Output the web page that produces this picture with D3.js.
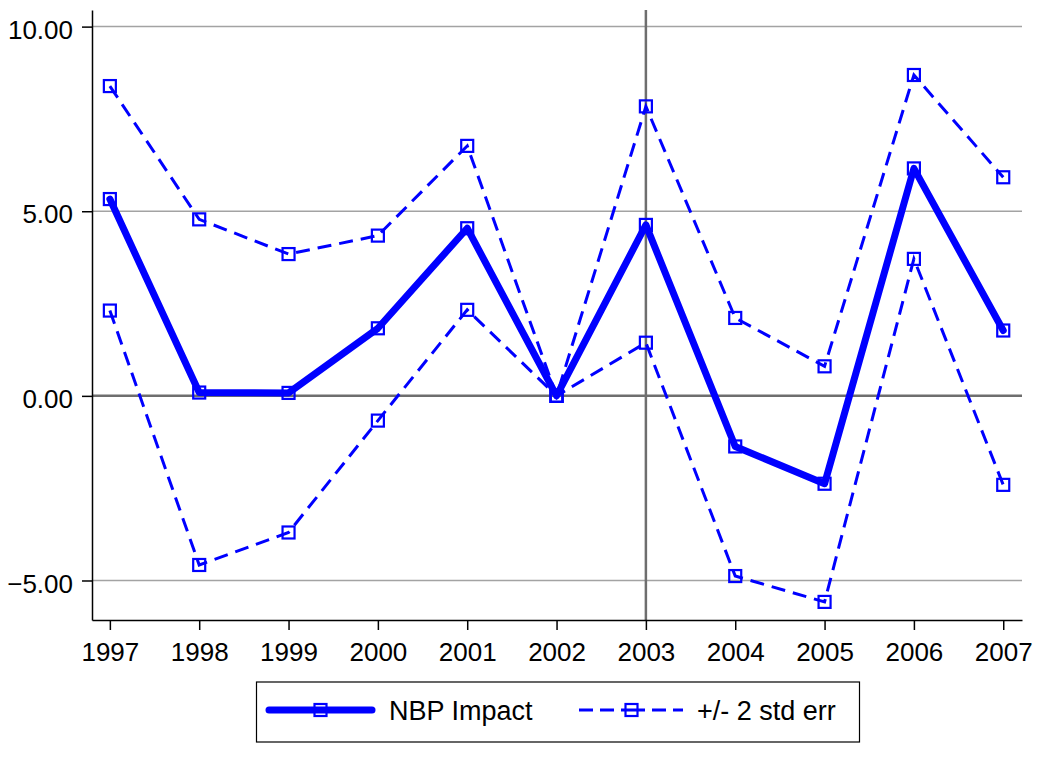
<!DOCTYPE html>
<html>
<head>
<meta charset="utf-8">
<script src="https://cdn.jsdelivr.net/npm/d3@7"></script>
<style>
  html, body { margin: 0; padding: 0; background: #fff; }
  svg { display: block; font-family: "Liberation Sans", Arial, sans-serif; }
</style>
</head>
<body>
<svg id="chart" width="1038" height="761"></svg>
<script>
// Estimated effect by year with a +/- 2 standard error band
const years = [1997, 1998, 1999, 2000, 2001, 2002, 2003, 2004, 2005, 2006, 2007];
const impact = [5.33, 0.09, 0.08, 1.83, 4.54, 0.00, 4.63, -1.37, -2.38, 6.16, 1.77];
const upperBand = [8.39, 4.78, 3.84, 4.34, 6.77, 0.00, 7.84, 2.11, 0.80, 8.69, 5.92];
const lowerBand = [2.31, -4.58, -3.70, -0.67, 2.33, 0.00, 1.44, -4.88, -5.58, 3.71, -2.41];
const yTicks = [-5, 0, 5, 10];
const gridValues = [-5, 5, 10];
const markYear = 2003;
const legendLabels = ["NBP Impact", "+/- 2 std err"];

const svg = d3.select("#chart");
const blue = "#0000ff";

const x = d3.scaleLinear().domain([1996.8, 2007.21]).range([92, 1022]);
const y = d3.scaleLinear().domain([-6.07, 10.45]).range([620, 10]);

// Horizontal reference lines
svg.append("g").selectAll("line").data(gridValues).join("line")
  .attr("x1", x.range()[0]).attr("x2", x.range()[1])
  .attr("y1", d => y(d)).attr("y2", d => y(d))
  .attr("stroke", "#a3a3a3").attr("stroke-width", 1.5);

// Zero line and vertical marker at 2003
svg.append("line")
  .attr("x1", x.range()[0]).attr("x2", x.range()[1])
  .attr("y1", y(0)).attr("y2", y(0))
  .attr("stroke", "#6e6e6e").attr("stroke-width", 2.5);
svg.append("line")
  .attr("x1", x(markYear)).attr("x2", x(markYear))
  .attr("y1", y.range()[1]).attr("y2", y.range()[0])
  .attr("stroke", "#6e6e6e").attr("stroke-width", 2.5);

// Axes
const yAxis = d3.axisLeft(y).tickValues(yTicks).tickFormat(d3.format(".2f")).tickSize(10).tickSizeOuter(0);
const gy = svg.append("g").attr("transform", `translate(${x.range()[0]},0)`).call(yAxis);
gy.select(".domain").attr("stroke", "#000").attr("stroke-width", 1.5);
gy.selectAll(".tick line").attr("stroke", "#000").attr("stroke-width", 1.5);
gy.selectAll(".tick text")
  .attr("font-size", 26).attr("fill", "#000")
  .attr("font-family", "'Liberation Sans', Arial, sans-serif")
  .attr("x", -19).attr("dy", "0.45em");

const xAxis = d3.axisBottom(x).tickValues(years).tickFormat(d3.format("d")).tickSize(10).tickSizeOuter(0);
const gx = svg.append("g").attr("transform", `translate(0,${y.range()[0]})`).call(xAxis);
gx.select(".domain").attr("stroke", "#000").attr("stroke-width", 1.5);
gx.selectAll(".tick line").attr("stroke", "#000").attr("stroke-width", 1.5);
gx.selectAll(".tick text")
  .attr("font-size", 26).attr("fill", "#000")
  .attr("font-family", "'Liberation Sans', Arial, sans-serif")
  .attr("y", 23).attr("dy", "0.71em");

const line = d3.line().x((d, i) => x(years[i])).y(d => y(d));

function drawMarkers(values) {
  svg.append("g").selectAll("rect").data(values).join("rect")
    .attr("x", (d, i) => x(years[i]) - 6)
    .attr("y", d => y(d) - 6)
    .attr("width", 12).attr("height", 12)
    .attr("fill", "none").attr("stroke", blue).attr("stroke-width", 2.2);
}

// Confidence band lines
[upperBand, lowerBand].forEach(vals => {
  svg.append("path").datum(vals).attr("d", line)
    .attr("fill", "none").attr("stroke", blue).attr("stroke-width", 3)
    .attr("stroke-dasharray", "14,8");
  drawMarkers(vals);
});

// Point estimate
svg.append("path").datum(impact).attr("d", line)
  .attr("fill", "none").attr("stroke", blue).attr("stroke-width", 7)
  .attr("stroke-linejoin", "round").attr("stroke-linecap", "round");
drawMarkers(impact);

// Legend
const lg = svg.append("g");
lg.append("rect").attr("x", 256.5).attr("y", 682).attr("width", 603).attr("height", 60)
  .attr("fill", "#fff").attr("stroke", "#000").attr("stroke-width", 1.2);
const ly = 710;
lg.append("line").attr("x1", 269).attr("x2", 372).attr("y1", ly).attr("y2", ly)
  .attr("stroke", blue).attr("stroke-width", 7).attr("stroke-linecap", "round");
lg.append("rect").attr("x", 314.5).attr("y", ly - 6).attr("width", 12).attr("height", 12)
  .attr("fill", "none").attr("stroke", blue).attr("stroke-width", 2.2);
lg.append("text").attr("x", 389).attr("y", 719.5).attr("font-size", 27).attr("fill", "#000")
  .text(legendLabels[0]);
lg.append("line").attr("x1", 579).attr("x2", 683).attr("y1", ly).attr("y2", ly)
  .attr("stroke", blue).attr("stroke-width", 3).attr("stroke-dasharray", "14,7,14,7,24,7,14,7,14");
lg.append("rect").attr("x", 625.5).attr("y", ly - 6).attr("width", 12).attr("height", 12)
  .attr("fill", "none").attr("stroke", blue).attr("stroke-width", 2.2);
lg.append("text").attr("x", 697).attr("y", 719.5).attr("font-size", 27).attr("fill", "#000")
  .text(legendLabels[1]);
</script>
</body>
</html>
